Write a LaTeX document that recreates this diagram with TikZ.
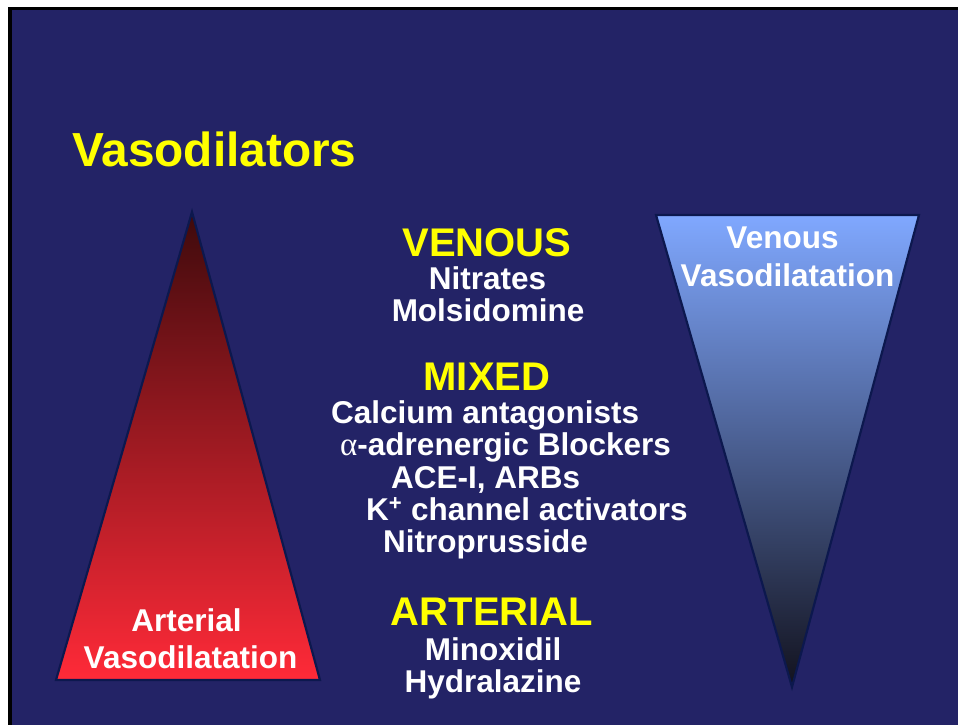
\documentclass[tikz,border=0pt]{standalone}
\usepackage{fontspec}
\setmainfont{Liberation Sans}
\newfontfamily\grk{Liberation Serif}
\definecolor{navy}{RGB}{35,35,102}
\definecolor{edge}{RGB}{12,24,78}
\definecolor{yel}{RGB}{255,255,0}
\definecolor{redtop}{RGB}{62,10,12}
\definecolor{redmid}{RGB}{176,30,38}
\definecolor{redbot}{RGB}{255,42,56}
\definecolor{bluetop}{RGB}{128,168,255}
\definecolor{bluemid}{RGB}{100,132,212}
\definecolor{bluebot}{RGB}{18,18,30}
\tikzset{
  head/.style={text=yel, font=\bfseries\fontsize{40}{42}\selectfont, anchor=base, inner sep=0pt},
  title/.style={text=yel, font=\bfseries\fontsize{47.8}{50}\selectfont, anchor=base west, inner sep=0pt},
  item/.style={text=white, font=\bfseries\fontsize{31.5}{34}\selectfont, anchor=base, inner sep=0pt},
  itemw/.style={item, anchor=base west},
  tri/.style={draw=edge, line width=2.2pt, line join=miter}
}
\begin{document}
\begin{tikzpicture}[x=1pt,y=-1pt]
\useasboundingbox (0,0) rectangle (958,724);
\fill[white] (0,0) rectangle (958,724);
\filldraw[fill=navy, draw=black, line width=3.5pt] (10,8.5) rectangle (975,740);

% left triangle (arterial)
\path[tri, top color=redtop, middle color=redmid, bottom color=redbot]
  (192,212) -- (320,680) -- (56,680) -- cycle;
% right triangle (venous)
\path[tri, top color=bluetop, middle color=bluemid, bottom color=bluebot]
  (656,215) -- (919,215) -- (792,687) -- cycle;

\node[title] (ttl) at (72,166) {Vasodilators};

\node[head] (ven) at (487,256) {VENOUS};
\node[item] (nit) at (487.5,289) {Nitrates};
\node[item] (mol) at (488,321) {Molsidomine};

\node[head] (mix) at (487,390) {MIXED};
\node[itemw] (cal) at (331,423) {Calcium antagonists};
\node[itemw] (alp) at (340,455) {{\grk\mdseries\fontsize{33}{34}\selectfont α}-adrenergic Blockers};
\node[itemw] (ace) at (391,488) {ACE-I, ARBs};
\node[itemw] (kch) at (366,520) {K\textsuperscript{+} channel activators};
\node[itemw] (npr) at (383,552) {Nitroprusside};

\node[head] (art) at (492,625) {ARTERIAL};
\node[item] (min) at (493,660) {Minoxidil};
\node[item] (hyd) at (493,692) {Hydralazine};

\node[item] (al1) at (186.5,631) {Arterial};
\node[item] (al2) at (190.5,668) {Vasodilatation};
\node[item] (vl1) at (782.5,248) {Venous};
\node[item] (vl2) at (787.5,286) {Vasodilatation};
\end{tikzpicture}
\end{document}
